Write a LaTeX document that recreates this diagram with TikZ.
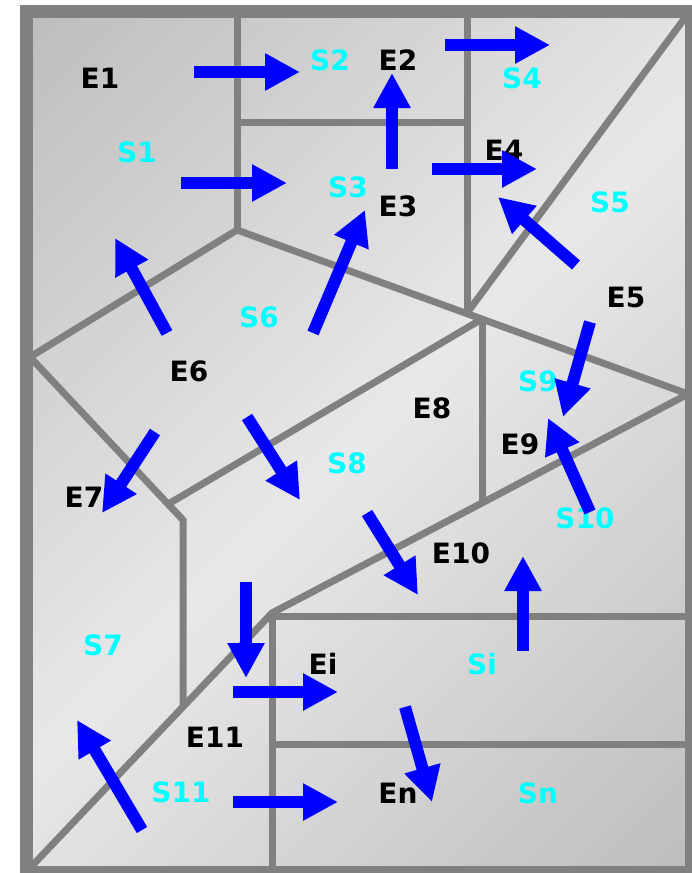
\documentclass[tikz,border=0pt]{standalone}
\usepackage{fontspec}
\setmainfont{DejaVu Sans}
\usetikzlibrary{arrows.meta}
\definecolor{frameg}{HTML}{808080}
\definecolor{arrb}{HTML}{0000FF}
\definecolor{labc}{HTML}{00FFFF}
\begin{document}
\begin{tikzpicture}[x=1pt,y=-1pt,
  wall/.style={draw=frameg,line width=7pt,line join=miter},
  flow/.style={draw=arrb,line width=12pt,-{Triangle[length=35pt,width=35pt]}},
  lab/.style={inner sep=0pt,font=\bfseries\fontsize{28}{28}\selectfont},
  elab/.style={lab,text=black},
  slab/.style={lab,text=labc}]
\useasboundingbox (0,0) rectangle (692,873);
% background: diagonal gradient dark - light - dark, built from thin bands
\begin{scope}
\clip (26,11) rectangle (691,872);
\foreach \i in {0,...,71} {
  \pgfmathsetmacro\sa{-540+15*\i}
  \pgfmathsetmacro\sb{\sa+16}
  \pgfmathsetmacro\g{9+17*abs(\sa+7.5)/540}
  \pgfmathsetmacro\xa{358+0.7071*(\sa+800)}
  \pgfmathsetmacro\ya{441+0.7071*(\sa-800)}
  \pgfmathsetmacro\xb{358+0.7071*(\sb+800)}
  \pgfmathsetmacro\yb{441+0.7071*(\sb-800)}
  \pgfmathsetmacro\xc{358+0.7071*(\sb-800)}
  \pgfmathsetmacro\yc{441+0.7071*(\sb+800)}
  \pgfmathsetmacro\xd{358+0.7071*(\sa-800)}
  \pgfmathsetmacro\yd{441+0.7071*(\sa+800)}
  \fill[black!\g] (\xa,\ya) -- (\xb,\yb) -- (\xc,\yc) -- (\xd,\yd) -- cycle;
}
\end{scope}
% internal walls
\draw[wall] (237,14) -- (237,230);
\draw[wall] (237,122) -- (467,122);
\draw[wall] (467,14) -- (467,313);
\draw[wall] (687,15) -- (467,313);
\draw[wall] (30,357) -- (237,230) -- (688,394);
\draw[wall] (482,319) -- (482,503);
\draw[wall] (482,319) -- (170,503);
\draw[wall] (30,357) -- (183,520) -- (183,705);
\draw[wall] (688,394) -- (482,503) -- (272,613) -- (30,868);
\draw[wall] (272,616) -- (688,616);
\draw[wall] (272,613) -- (272,868);
\draw[wall] (272,744) -- (688,744);
% frame
\draw[draw=frameg,line width=13pt] (26,11) rectangle (691,872);
% labels
\node[elab] (E1) at (100,78) {E1};
\node[slab] (S2) at (330,60) {S2};
\node[elab] (E2) at (398,60) {E2};
\node[slab] (S4) at (522,78) {S4};
\node[slab] (S1) at (137,152) {S1};
\node[slab] (S3) at (348,187) {S3};
\node[elab] (E3) at (398,206) {E3};
\node[elab] (E4) at (504,150) {E4};
\node[slab] (S5) at (610,202) {S5};
\node[elab] (E5) at (626,297) {E5};
\node[slab] (S6) at (259,317) {S6};
\node[elab] (E6) at (189,371) {E6};
\node[slab] (S9) at (538,381) {S9};
\node[elab] (E8) at (432,408) {E8};
\node[elab] (E9) at (520,444) {E9};
\node[slab] (S8) at (347,463) {S8};
\node[elab] (E7) at (84,497) {E7};
\node[slab] (S10) at (585,518) {S10};
\node[elab] (E10) at (461,553) {E10};
\node[slab] (S7) at (103,645) {S7};
\node[slab] (Si) at (482,664) {Si};
\node[elab] (Ei) at (323,664) {Ei};
\node[elab] (E11) at (215,737) {E11};
\node[slab] (S11) at (181,792) {S11};
\node[elab] (En) at (398,793) {En};
\node[slab] (Sn) at (538,793) {Sn};
% arrow end points
\coordinate (a1s) at (194,72);  \coordinate (a1e) at (300,72);
\coordinate (a2s) at (181,183); \coordinate (a2e) at (287,183);
\coordinate (a3s) at (445,45);  \coordinate (a3e) at (550,45);
\coordinate (a4s) at (392,169); \coordinate (a4e) at (392,73);
\coordinate (a5s) at (432,169); \coordinate (a5e) at (537,169);
\coordinate (a6s) at (576,265); \coordinate (a6e) at (498,197);
\coordinate (a7s) at (313,333); \coordinate (a7e) at (365,210);
\coordinate (a8s) at (167,333); \coordinate (a8e) at (115,238);
\coordinate (a9s) at (155,432); \coordinate (a9e) at (102,513);
\coordinate (a10s) at (247,417); \coordinate (a10e) at (300,500);
\coordinate (a11s) at (590,322); \coordinate (a11e) at (563,417);
\coordinate (a12s) at (590,512); \coordinate (a12e) at (548,418);
\coordinate (a13s) at (367,513); \coordinate (a13e) at (418,595);
\coordinate (a14s) at (523,651); \coordinate (a14e) at (523,556);
\coordinate (a15s) at (246,582); \coordinate (a15e) at (246,678);
\coordinate (a16s) at (233,692); \coordinate (a16e) at (338,692);
\coordinate (a17s) at (233,802); \coordinate (a17e) at (338,802);
\coordinate (a18s) at (405,707); \coordinate (a18e) at (432,802);
\coordinate (a19s) at (142,830); \coordinate (a19e) at (77,720);
\foreach \i in {1,...,19} {\draw[flow] (a\i s) -- (a\i e);}
\end{tikzpicture}
\end{document}
